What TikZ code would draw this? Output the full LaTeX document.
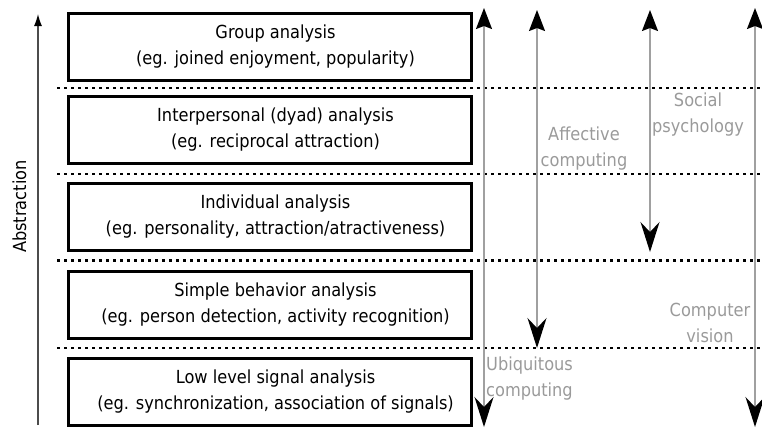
\documentclass[tikz,border=0pt]{standalone}
\usepackage{fontspec}
\setmainfont{DejaVu Sans}[FakeStretch=0.9]
\usetikzlibrary{arrows.meta}
\definecolor{lblgray}{HTML}{9A9A9A}
\definecolor{linegray}{HTML}{A0A0A0}
\tikzset{
  uptip/.tip={Stealth[length=21pt,width=16pt,inset=3pt,black]},
  downtip/.tip={Stealth[length=30pt,width=19pt,inset=10pt,black]}
}
\newcommand{\lvlpad}{\hspace*{11pt}}
\begin{document}
\begin{tikzpicture}[x=1pt,y=-1pt,
  txt/.style={font=\fontsize{18pt}{26pt}\selectfont},
  level/.style={txt, draw=black, line width=3pt, minimum width=403pt, minimum height=67pt, align=center, inner sep=0pt},
  sepline/.style={line width=2.5pt, dash pattern=on 2.5pt off 4.5pt},
  field/.style={txt, text=lblgray, inner sep=0pt},
  span/.style={draw=linegray, line width=1.5pt}]
\useasboundingbox (0,0) rectangle (762,429);

% levels
\node[level] (b1) at (270,46.5) {\lvlpad Group analysis\\\lvlpad(eg. joined enjoyment, popularity)};
\node[level] (b2) at (270,130) {\lvlpad Interpersonal (dyad) analysis\\\lvlpad(eg. reciprocal attraction)};
\node[level] (b3) at (270,216.5) {\lvlpad Individual analysis\\\lvlpad(eg. personality, attraction/atractiveness)};
\node[level] (b4) at (270,304.5) {\lvlpad Simple behavior analysis\\\lvlpad(eg. person detection, activity recognition)};
\node[level] (b5) at (270,391.5) {\lvlpad Low level signal analysis\\\lvlpad(eg. synchronization, association of signals)};

% separators
\foreach \n/\y in {1/88,2/174,3/260.5,4/348}{
  \coordinate (d\n l) at (57,\y);
  \coordinate (d\n r) at (762,\y);
  \draw[sepline] (d\n l) -- (d\n r);
}

% abstraction axis
\coordinate (abot) at (38,425);
\coordinate (atop) at (38,14);
\draw[line width=1.2pt, draw=black!70, -{Latex[length=12pt,width=8pt,black]}] (abot) -- (atop);
\node[txt, rotate=90, inner sep=0pt] (abs) at (19.5,206.5) {Abstraction};

% field spans
\coordinate (f1t) at (484,8);   \coordinate (f1b) at (484,427);
\coordinate (f2t) at (537,10);  \coordinate (f2b) at (537,348);
\coordinate (f3t) at (650,10);  \coordinate (f3b) at (650,252);
\coordinate (f4t) at (755,8);   \coordinate (f4b) at (755,427);
\draw[span, uptip-downtip] (f1t) -- (f1b);
\draw[span, uptip-downtip] (f2t) -- (f2b);
\draw[span, uptip-downtip] (f3t) -- (f3b);
\draw[span, uptip-downtip] (f4t) -- (f4b);

% field labels
\node[field, align=center] (aff) at (584,149) {Affective\\computing};
\node[field, align=center] (soc) at (698,115) {Social\\psychology};
\node[field, align=center] (cv) at (710,323) {Computer\\vision};
\node[field, align=left, anchor=west] (ubi) at (486,379) {Ubiquitous\\computing};
\end{tikzpicture}
\end{document}
